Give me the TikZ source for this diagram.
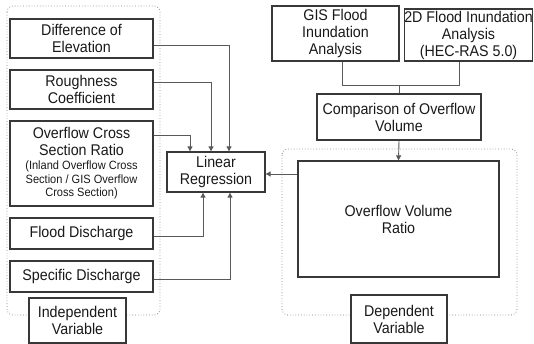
\documentclass[tikz,border=0pt]{standalone}
\usepackage{fontspec}
\setmainfont{Liberation Sans}[FakeStretch=0.92]
\usetikzlibrary{arrows.meta,calc}
\newcommand\notefont{\fontsize{12}{13.3}\selectfont}
\tikzset{
  box/.style={draw=black!78, line width=1.3pt, inner sep=0pt, align=center,
    font=\fontsize{15.5}{17}\selectfont, text=black!90},
  group/.style={draw=black!45, dotted, line width=0.8pt, rounded corners=6pt},
  conn/.style={draw=black!65, line width=0.9pt},
  arr/.style={conn, -{Triangle[length=5pt,width=5pt]}}
}
\begin{document}
\begin{tikzpicture}[x=1pt,y=-1pt]
\useasboundingbox (0,0) rectangle (534,344);
% dotted groups
\draw[group] (7,6) rectangle (160,315);
\draw[group] (282,149) rectangle (517,315);
% independent variables
\node[box, minimum width=143pt, minimum height=39pt] (diff) at (81.5,38.5) {Difference of\\Elevation};
\node[box, minimum width=143pt, minimum height=39pt] (rough) at (81.5,89.5) {Roughness\\Coefficient};
\node[box, minimum width=143pt, minimum height=85pt] (cross) at (81.5,163.5)
  {Overflow Cross\\Section Ratio\\[-3pt]\notefont (Inland Overflow Cross\\[-3.5pt]\notefont Section / GIS Overflow\\[-3.5pt]\notefont Cross Section)};
\node[box, minimum width=143pt, minimum height=31pt] (flood) at (81.5,233.5) {Flood Discharge};
\node[box, minimum width=143pt, minimum height=31pt] (spec) at (81.5,276.5) {Specific Discharge};
\node[box, fill=white, minimum width=97pt, minimum height=45pt] (indep) at (77.5,320.5) {Independent\\Variable};
% regression
\node[box, minimum width=98pt, minimum height=40pt] (lr) at (216,172) {Linear\\Regression};
% dependent side
\node[box, minimum width=127pt, minimum height=55pt] (gis) at (335.5,33.5) {GIS Flood\\Inundation\\Analysis};
\node[box, minimum width=127pt, minimum height=52pt] (hec) at (468.5,35) {2D Flood Inundation\\Analysis\\(HEC-RAS 5.0)};
\node[box, minimum width=164pt, minimum height=46pt] (comp) at (399,117) {Comparison of Overflow\\Volume};
\node[box, minimum width=201pt, minimum height=116pt] (ovr) at (398.5,219) {Overflow Volume\\Ratio};
\node[box, fill=white, minimum width=96pt, minimum height=48pt] (dep) at (399,319) {Dependent\\Variable};
% connectors into the regression
\draw[arr] ([yshift=-6.5pt]diff.east) -| ([xshift=13pt]lr.north);
\draw[arr] ([yshift=7.5pt]rough.east) -| ([xshift=-5pt]lr.north);
\draw[arr] ([yshift=28.5pt]cross.east) -| ([xshift=-26pt]lr.north);
\draw[arr] ([yshift=-2.5pt]flood.east) -| ([xshift=-13pt]lr.south);
\draw[arr] ([yshift=-2.5pt]spec.east) -| ([xshift=14pt]lr.south);
% merging the two analyses
\coordinate (j) at ([yshift=8pt]comp.north);
\draw[conn] ([xshift=6.5pt]gis.south) |- (j) -| ([xshift=-9.5pt]hec.south);
\draw[conn] (j) -- (comp.north);
\draw[arr] (comp.south) -- (ovr.north);
\coordinate (o) at ([yshift=45pt]ovr.west);
\draw[arr] (o) -- (lr.east |- o);
\end{tikzpicture}
\end{document}
